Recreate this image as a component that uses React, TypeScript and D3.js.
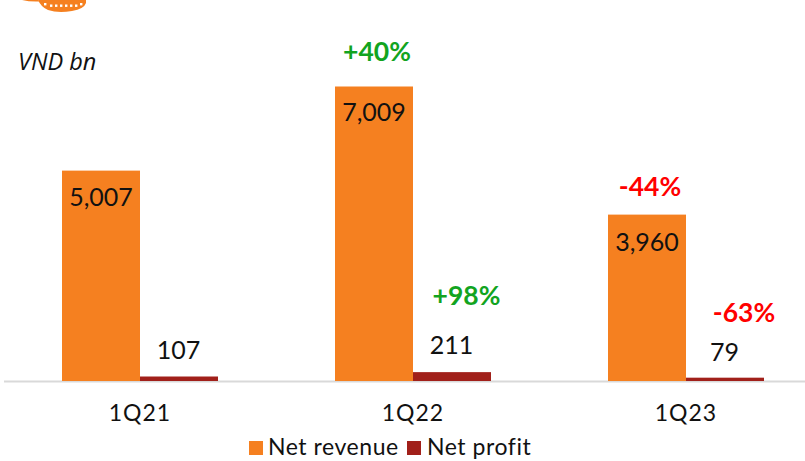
import React from "react";
import * as d3 from "d3";

const categories = ["1Q21", "1Q22", "1Q23"];
const seriesNames = ["Net revenue", "Net profit"];
const revenue = [5007, 7009, 3960];
const profit = [107, 211, 79];
const revenueChange = ["", "+40%", "-44%"];
const profitChange = ["", "+98%", "-63%"];

const W = 805, H = 461;
const base = 381;
const ORANGE = "#F58020", RED = "#A1201A", GREEN = "#12A41F", BRIGHT = "#FF0000";
const FONT = "Lato, 'Open Sans', sans-serif";

const x = d3.scaleBand<string>().domain(categories).range([3.5, 822.5]).paddingInner(0.4286).paddingOuter(0.2143);
const sub = d3.scaleBand<string>().domain(seriesNames).range([0, x.bandwidth()]);
const y = d3.scaleLinear().domain([0, 7009]).range([base, 86.5]);
const fmt = d3.format(",");

const revLabelY = [206, 121, 251];
const profLabelY = [359, 354, 361];
const revChangeY = [0, 61, 196];
const profChangeY = [0, 305, 322];
const revChangeX = [0, 3, 3];
const profChangeX = [0, 14.5, 19];

export default function App() {
  return (
    <svg width={W} height={H} style={{ position: "absolute", left: 0, top: 0, background: "#fff" }} fontFamily={FONT}>
      <path d="M22 0 Q30 2 40 1.5 L38 0 Z" fill={ORANGE} />
      <path d="M38 0 H86 V3 Q84 9 72 11 Q58 13.5 48 10 Q41 7 38 0 Z" fill={ORANGE} />
      {[44, 50, 55, 60, 65, 70, 75, 80].map((d, i) => (
        <rect key={d} x={d} y={i === 0 || i === 7 ? 3 : 4.5} width={2.4} height={2.4} fill="#fff" />
      ))}
      <text x={18} y={70} fontSize={23.5} fontStyle="italic" fontFamily="'Open Sans', sans-serif" fill="#111">VND bn</text>

      <line x1={4} x2={805} y1={base + 0.5} y2={base + 0.5} stroke="#D9D9D9" strokeWidth={2} />

      {categories.map((c, i) => {
        const x0 = x(c)!;
        const xr = x0 + sub("Net revenue")!;
        const xp = x0 + sub("Net profit")!;
        const bw = sub.bandwidth();
        return (
          <g key={c}>
            <rect x={xr} y={y(revenue[i])} width={bw} height={base - y(revenue[i])} fill={ORANGE} />
            <rect x={xp} y={y(profit[i])} width={bw} height={base - y(profit[i])} fill={RED} />
            <text x={xr + bw / 2} y={revLabelY[i]} textAnchor="middle" fontSize={25} fill="#111">{fmt(revenue[i])}</text>
            <text x={xp + bw / 2 - 0.5} y={profLabelY[i]} textAnchor="middle" fontSize={25} fill="#111">{fmt(profit[i])}</text>
            {revenueChange[i] && (
              <text x={xr + bw / 2 + revChangeX[i]} y={revChangeY[i]} textAnchor="middle" fontSize={26.5} fontWeight={700} fill={i === 1 ? GREEN : BRIGHT}>{revenueChange[i]}</text>
            )}
            {profitChange[i] && (
              <text x={xp + bw / 2 + profChangeX[i]} y={profChangeY[i]} textAnchor="middle" fontSize={26.5} fontWeight={700} fill={i === 1 ? GREEN : BRIGHT}>{profitChange[i]}</text>
            )}
            <text x={x0 + x.bandwidth() / 2} y={421} textAnchor="middle" fontSize={23} letterSpacing={1} fill="#111">{c}</text>
          </g>
        );
      })}

      <rect x={249} y={441} width={14} height={14} fill={ORANGE} />
      <text x={268} y={455} fontSize={23} letterSpacing={0.55} fill="#111">{seriesNames[0]}</text>
      <rect x={407} y={441} width={14} height={14} fill={RED} />
      <text x={427} y={455} fontSize={23} letterSpacing={0.55} fill="#111">{seriesNames[1]}</text>
    </svg>
  );
}
